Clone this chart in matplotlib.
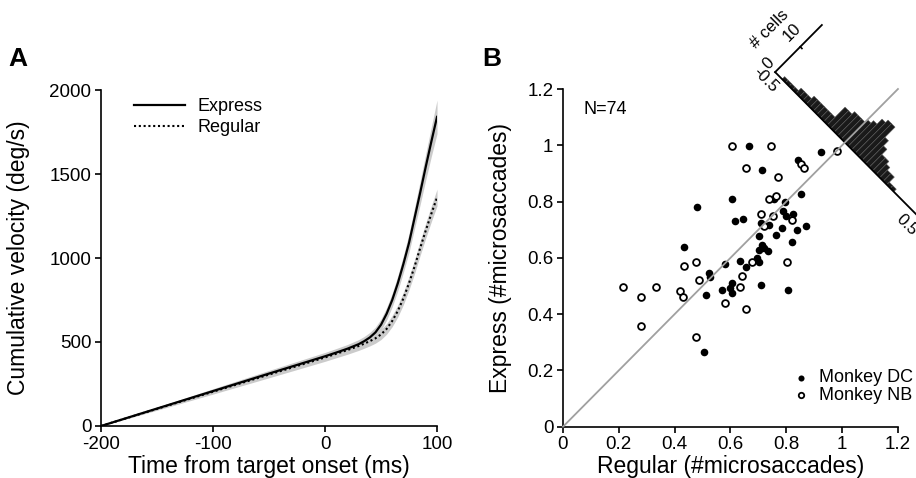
import matplotlib
matplotlib.use('Agg')
import matplotlib.pyplot as plt
from matplotlib.patches import Polygon
import numpy as np

plt.rcParams['font.family'] = ['Liberation Sans', 'DejaVu Sans']
plt.rcParams['axes.unicode_minus'] = False

# --- panel A: cumulative eye velocity around target onset ---
time_ms = [-200, -150, -100, -50, 0, 10, 20, 30, 35, 40, 45, 50, 55, 60,
           65, 70, 75, 80, 85, 90, 95, 100]
express_vel = [0, 104, 208, 312, 415, 437, 460, 487, 505, 527, 557, 603, 668, 750,
               850, 965, 1090, 1240, 1390, 1545, 1695, 1840]
express_sem = [0, 8, 14, 19, 23, 24, 25, 27, 28, 30, 32, 34, 37, 40,
               45, 50, 56, 62, 70, 78, 88, 100]
regular_vel = [0, 102, 204, 306, 408, 430, 452, 476, 490, 505, 522, 545, 578, 625,
               685, 760, 850, 950, 1060, 1165, 1265, 1360]
regular_sem = [0, 8, 14, 19, 23, 24, 25, 26, 27, 28, 29, 30, 31, 33,
               35, 37, 39, 41, 43, 45, 47, 50]

# --- panel B: microsaccade counts per cell ---
dc_regular = [0.666, 0.924, 0.843, 0.714, 0.604, 0.481, 0.757, 0.795, 0.851, 0.787,
              0.799, 0.825, 0.616, 0.646, 0.708, 0.739, 0.783, 0.869, 0.839, 0.703,
              0.763, 0.819, 0.712, 0.720, 0.735, 0.703, 0.432, 0.580, 0.634, 0.694,
              0.702, 0.654, 0.524, 0.527, 0.604, 0.568, 0.598, 0.604, 0.708, 0.807,
              0.512, 0.506]
dc_express = [0.999, 0.975, 0.949, 0.913, 0.809, 0.779, 0.809, 0.797, 0.827, 0.765,
              0.749, 0.756, 0.732, 0.738, 0.724, 0.718, 0.706, 0.712, 0.700, 0.676,
              0.682, 0.656, 0.644, 0.635, 0.623, 0.629, 0.640, 0.579, 0.590, 0.599,
              0.587, 0.567, 0.546, 0.533, 0.510, 0.486, 0.493, 0.475, 0.504, 0.486,
              0.468, 0.267]
nb_regular = [0.604, 0.745, 0.980, 0.851, 0.863, 0.654, 0.769, 0.739, 0.763, 0.819,
              0.751, 0.708, 0.720, 0.433, 0.475, 0.678, 0.801, 0.488, 0.642, 0.634,
              0.216, 0.278, 0.333, 0.419, 0.431, 0.580, 0.654, 0.278, 0.475]
nb_express = [0.999, 0.999, 0.979, 0.935, 0.920, 0.920, 0.887, 0.809, 0.821, 0.736,
              0.750, 0.756, 0.712, 0.572, 0.584, 0.584, 0.584, 0.522, 0.536, 0.498,
              0.498, 0.462, 0.498, 0.481, 0.461, 0.439, 0.419, 0.358, 0.320]

# histogram of the differences, drawn along the anti-diagonal
hist_edges = np.arange(-0.5, 0.5001, 0.025)
hist_counts = [0, 0, 1, 1, 1, 1, 2, 2, 2, 3, 3, 3, 3, 3, 3, 7, 7, 8, 8, 8,
               9, 10, 12, 13, 13, 9, 7, 5, 5, 4, 3, 3, 1, 1, 0, 0, 0, 0, 0, 0]

fig = plt.figure(figsize=(9.16, 4.78), dpi=100)
axA = fig.add_axes([0.1103, 0.1088, 0.3668, 0.7029])
axB = fig.add_axes([0.6146, 0.1073, 0.3657, 0.7065])

for ax in (axA, axB):
    for side in ('top', 'right'):
        ax.spines[side].set_visible(False)
    for side in ('left', 'bottom'):
        ax.spines[side].set_linewidth(1.2)
    ax.tick_params(direction='out', length=4, width=1.2, labelsize=13.5, pad=3)

# panel A
t = np.array(time_ms)
ev, es = np.array(express_vel), np.array(express_sem)
rv, rs = np.array(regular_vel), np.array(regular_sem)
axA.fill_between(t, rv - rs, rv + rs, color='#cbcbcb', lw=0)
axA.fill_between(t, ev - es, ev + es, color='#cbcbcb', lw=0)
axA.plot(t, ev, color='black', lw=1.6, label='Express')
axA.plot(t, rv, color='black', lw=1.5, ls=(0, (1, 1.3)), label='Regular')
axA.set_xlim(-200, 100)
axA.set_ylim(0, 2000)
axA.set_xticks([-200, -100, 0, 100])
axA.set_yticks([0, 500, 1000, 1500, 2000])
axA.set_xlabel('Time from target onset (ms)', fontsize=16.5)
axA.set_ylabel('Cumulative velocity (deg/s)', fontsize=16.5)
axA.xaxis.set_label_coords(0.5, -0.085)
axA.yaxis.set_label_coords(-0.21, 0.5)
axA.legend(loc='upper left', bbox_to_anchor=(0.098, 0.975), frameon=False,
           fontsize=13, handlelength=2.8, handletextpad=0.7, labelspacing=0.2,
           borderpad=0, borderaxespad=0)

# panel B
axB.scatter(dc_regular, dc_express, s=30, color='black', lw=0, zorder=3, label='Monkey DC')
axB.scatter(nb_regular, nb_express, s=24, facecolor='white', edgecolor='black',
            lw=1.3, zorder=3, label='Monkey NB')
axB.plot([0, 1.2], [0, 1.2], color='#a0a0a0', lw=1.3, zorder=6, clip_on=False)
axB.set_xlim(0, 1.2)
axB.set_ylim(0, 1.2)
ticks = [0, 0.2, 0.4, 0.6, 0.8, 1, 1.2]
axB.set_xticks(ticks)
axB.set_yticks(ticks)
axB.set_xticklabels(['0', '0.2', '0.4', '0.6', '0.8', '1', '1.2'])
axB.set_yticklabels(['0', '0.2', '0.4', '0.6', '0.8', '1', '1.2'])
axB.set_xlabel('Regular (#microsaccades)', fontsize=16.5)
axB.set_ylabel('Express (#microsaccades)', fontsize=16.5)
axB.xaxis.set_label_coords(0.5, -0.085)
axB.yaxis.set_label_coords(-0.152, 0.5)
axB.text(0.06, 0.94, 'N=74', transform=axB.transAxes, fontsize=13, va='center')
axB.legend(loc='upper left', bbox_to_anchor=(0.683, 0.17), frameon=False,
           fontsize=13, handlelength=1, handletextpad=0.5, labelspacing=0.05,
           borderpad=0, borderaxespad=0, markerscale=0.8)


def diag(d, c):
    # baseline along the anti-diagonal through (1.01, 1.01); counts point up-right
    return 1.01 + 0.5 * d + 0.009 * c, 1.01 - 0.5 * d + 0.009 * c


for lo, hi, n in zip(hist_edges[:-1], hist_edges[1:], hist_counts):
    if n == 0:
        continue
    pts = [diag(lo, 0), diag(hi, 0), diag(hi, n), diag(lo, n)]
    axB.add_patch(Polygon(pts, closed=True, facecolor='#1a1a1a', edgecolor='#555555',
                          lw=0.4, zorder=4, clip_on=False))

x0, y0 = diag(-0.5, 0)
x1, y1 = diag(0.55, 0)
axB.plot([x0, x1], [y0, y1], color='black', lw=1.3, zorder=5, clip_on=False)
x2, y2 = diag(-0.5, 18.6)
axB.plot([x0, x2], [y0, y2], color='black', lw=1.3, zorder=5, clip_on=False)
tx0, ty0 = diag(-0.5, 10)
tx1, ty1 = diag(-0.488, 10)
axB.plot([tx0, tx1], [ty0, ty1], color='black', lw=1.2, zorder=5, clip_on=False)

hist_labels = [('# cells', -0.672, 7.4, 45), ('10', -0.58, 11.4, 45), ('0', -0.557, 0.4, 45),
               ('-0.5', -0.505, -3.4, -45), ('0.5', 0.514, -3.9, -45)]
for txt, d, c, rot in hist_labels:
    lx, ly = diag(d, c)
    axB.text(lx, ly, txt, fontsize=12, rotation=rot, ha='center', va='center',
             rotation_mode='anchor', clip_on=False)

fig.text(8 / 916, 1 - 66 / 478, 'A', fontsize=19, fontweight='bold', va='baseline')
fig.text(482 / 916, 1 - 66 / 478, 'B', fontsize=19, fontweight='bold', va='baseline')

fig.savefig('out.png', dpi=100)
plt.close(fig)
